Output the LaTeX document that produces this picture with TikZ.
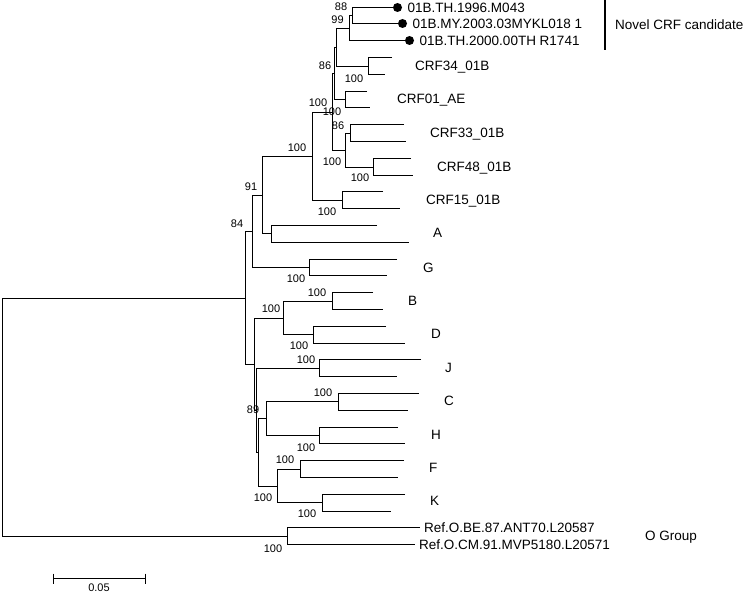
\documentclass[tikz,border=0pt]{standalone}
\usepackage{fontspec}
\setmainfont{Liberation Sans}
\begin{document}
\begin{tikzpicture}[x=1pt,y=-1pt,
  br/.style={line width=1.4pt},
  lab/.style={anchor=base west,inner sep=0pt,yshift=-4.8pt,font=\fontsize{13.5}{16}\selectfont},
  bs/.style={anchor=base,inner sep=0pt,yshift=-3.9pt,font=\fontsize{11}{13}\selectfont},
  dot/.style={circle,fill=black,inner sep=0pt,minimum size=9pt}]
\useasboundingbox[fill=white] (0,0) rectangle (750,594);
% leaves
\coordinate (l0) at (393,7.5);   \coordinate (l1) at (398,23.5);  \coordinate (l2) at (405,40.5);
\coordinate (l3) at (392,57.5);  \coordinate (l4) at (385,74.5);
\coordinate (l5) at (367,91.5);  \coordinate (l6) at (370,107.5);
\coordinate (l7) at (404,124.5); \coordinate (l8) at (406,141.5);
\coordinate (l9) at (411,158.5); \coordinate (l10) at (413,175.5);
\coordinate (l11) at (383,191.5); \coordinate (l12) at (400,208.5);
\coordinate (l13) at (377,225.5); \coordinate (l14) at (409,242.5);
\coordinate (l15) at (397,259.5); \coordinate (l16) at (387,275.5);
\coordinate (l17) at (373,292.5); \coordinate (l18) at (383,309.5);
\coordinate (l19) at (386,326.5); \coordinate (l20) at (405,343.5);
\coordinate (l21) at (421,359.5); \coordinate (l22) at (397,376.5);
\coordinate (l23) at (419,393.5); \coordinate (l24) at (408,410.5);
\coordinate (l25) at (398,427.5); \coordinate (l26) at (405,443.5);
\coordinate (l27) at (404,460.5); \coordinate (l28) at (398,477.5);
\coordinate (l29) at (405,494.5); \coordinate (l30) at (391,511.5);
\coordinate (l31) at (420,527.5); \coordinate (l32) at (415,544.5);
% internal nodes
\coordinate (N88) at (352.5,15.5);
\coordinate (N99) at (349.5,28.5);
\coordinate (C34) at (368.5,66.5);
\coordinate (Na) at (336.5,47.5);
\coordinate (C01) at (345.5,99.5);
\coordinate (P) at (334.5,73.5);
\coordinate (C33) at (350.5,133.5);
\coordinate (C48) at (373.5,167.5);
\coordinate (S) at (345.5,150.5);
\coordinate (Q) at (332.5,112.5);
\coordinate (C15) at (342.5,200.5);
\coordinate (N100a) at (312.5,156.5);
\coordinate (An) at (271.5,233.5);
\coordinate (N91) at (262.5,195.5);
\coordinate (Gn) at (309.5,267.5);
\coordinate (Ng) at (252.5,231.5);
\coordinate (Bn) at (332.5,301.5);
\coordinate (Dn) at (313.5,334.5);
\coordinate (BD) at (283.5,318.5);
\coordinate (Jn) at (319.5,368.5);
\coordinate (Cn) at (338.5,401.5);
\coordinate (Hn) at (319.5,435.5);
\coordinate (M) at (266.5,418.5);
\coordinate (Fn) at (300.5,469.5);
\coordinate (Kn) at (322.5,502.5);
\coordinate (FK) at (277.5,486.5);
\coordinate (W) at (258.5,452.5);
\coordinate (U) at (256.5,410.5);
\coordinate (T) at (254.5,364.5);
\coordinate (I) at (245.5,298.5);
\coordinate (On) at (287.5,536.5);
\coordinate (R) at (2.5,417.5);
% branches
\draw[br] (l0) -| (N88) |- (l1);
\draw[br] (N88) -| (N99) |- (l2);
\draw[br] (l3) -| (C34) |- (l4);
\draw[br] (N99) -| (Na) |- (C34);
\draw[br] (l5) -| (C01) |- (l6);
\draw[br] (Na) -| (P) |- (C01);
\draw[br] (l7) -| (C33) |- (l8);
\draw[br] (l9) -| (C48) |- (l10);
\draw[br] (C33) -| (S) |- (C48);
\draw[br] (P) -| (Q) |- (S);
\draw[br] (l11) -| (C15) |- (l12);
\draw[br] (Q) -| (N100a) |- (C15);
\draw[br] (l13) -| (An) |- (l14);
\draw[br] (N100a) -| (N91) |- (An);
\draw[br] (l15) -| (Gn) |- (l16);
\draw[br] (N91) -| (Ng) |- (Gn);
\draw[br] (l17) -| (Bn) |- (l18);
\draw[br] (l19) -| (Dn) |- (l20);
\draw[br] (Bn) -| (BD) |- (Dn);
\draw[br] (l21) -| (Jn) |- (l22);
\draw[br] (l23) -| (Cn) |- (l24);
\draw[br] (l25) -| (Hn) |- (l26);
\draw[br] (Cn) -| (M) |- (Hn);
\draw[br] (l27) -| (Fn) |- (l28);
\draw[br] (l29) -| (Kn) |- (l30);
\draw[br] (Fn) -| (FK) |- (Kn);
\draw[br] (M) -| (W) |- (FK);
\draw[br] (Jn) -| (U) |- (W);
\draw[br] (BD) -| (T) |- (U);
\draw[br] (Ng) -| (I) |- (T);
\draw[br] (l31) -| (On) |- (l32);
\draw[br] (I) -| (R) |- (On);
% markers and taxon labels
\node[dot] (d0) at (397.5,7.5) {};
\node[dot] (d1) at (402.5,23.5) {};
\node[dot] (d2) at (409.5,40.5) {};
\node[lab] (t0) at (407.5,7.5) {01B.TH.1996.M043};
\node[lab] (t1) at (412.5,23.5) {01B.MY.2003.03MYKL018 1};
\node[lab] (t2) at (419.5,40.5) {01B.TH.2000.00TH R1741};
\node[lab] (t34) at (415,66) {CRF34\_01B};
\node[lab] (t01) at (397,99) {CRF01\_AE};
\node[lab] (t33) at (430,133) {CRF33\_01B};
\node[lab] (t48) at (437,166.5) {CRF48\_01B};
\node[lab] (t15) at (426,200) {CRF15\_01B};
\node[lab] (tA) at (433,233) {A};
\node[lab] (tG) at (423,268) {G};
\node[lab] (tB) at (408,301) {B};
\node[lab] (tD) at (431,334) {D};
\node[lab] (tJ) at (445,367.5) {J};
\node[lab] (tC) at (444,401) {C};
\node[lab] (tH) at (431,434.5) {H};
\node[lab] (tF) at (429,467.5) {F};
\node[lab] (tK) at (430,501) {K};
\node[lab] (to1) at (424,527.5) {Ref.O.BE.87.ANT70.L20587};
\node[lab] (to2) at (419,544.5) {Ref.O.CM.91.MVP5180.L20571};
\node[lab] (tog) at (645,536) {O Group};
% novel CRF bar
\coordinate (barT) at (605,0);
\coordinate (barB) at (605,50);
\draw[line width=2.6pt] (barT) -- (barB);
\node[lab] (tnov) at (615,25) {Novel CRF candidate};
% bootstrap values
\node[bs] (b88) at (341,7) {88};
\node[bs] (b99) at (337.5,20) {99};
\node[bs] (b86a) at (325,66) {86};
\node[bs] (b34) at (354,78.5) {100};
\node[bs] (bq) at (318,103) {100};
\node[bs] (b01) at (332,112) {100};
\node[bs] (b33) at (338,126) {86};
\node[bs] (bs1) at (332,162) {100};
\node[bs] (b48) at (360,177.5) {100};
\node[bs] (b100a) at (297,147.5) {100};
\node[bs] (b15) at (327,211.5) {100};
\node[bs] (b91) at (251,187) {91};
\node[bs] (b84) at (237,223.5) {84};
\node[bs] (bG) at (296,279) {100};
\node[bs] (bB) at (317,293) {100};
\node[bs] (bBD) at (271,308.5) {100};
\node[bs] (bD) at (299,346) {100};
\node[bs] (bJ) at (306,360) {100};
\node[bs] (bC) at (323,393) {100};
\node[bs] (b89) at (253,410) {89};
\node[bs] (bH) at (306,447.5) {100};
\node[bs] (bF) at (285,460) {100};
\node[bs] (bFK) at (263,497.5) {100};
\node[bs] (bK) at (307,514) {100};
\node[bs] (bO) at (273,548.5) {100};
% scale bar
\coordinate (s1) at (53.5,578.5);
\coordinate (s2) at (145.5,578.5);
\coordinate (s1a) at (53.5,573.5);
\coordinate (s1b) at (53.5,583.5);
\coordinate (s2a) at (145.5,573.5);
\coordinate (s2b) at (145.5,583.5);
\draw[br] (s1) -- (s2);
\draw[br] (s1a) -- (s1b);
\draw[br] (s2a) -- (s2b);
\node[bs] (sbl) at (99,588) {0.05};
\end{tikzpicture}
\end{document}
